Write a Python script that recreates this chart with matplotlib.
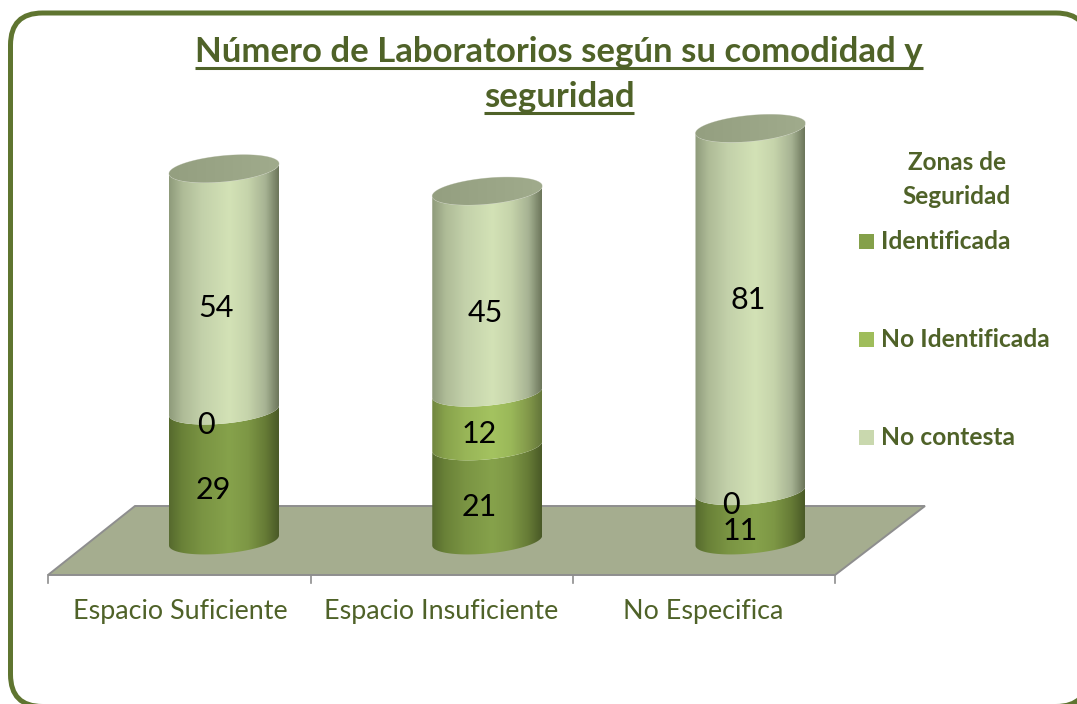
import matplotlib
matplotlib.use('Agg')
import matplotlib.pyplot as plt
import numpy as np
from matplotlib.colors import LinearSegmentedColormap
from matplotlib.patches import Polygon, FancyBboxPatch, Rectangle

categorias = ['Espacio Suficiente', 'Espacio Insuficiente', 'No Especifica']
series = ['Identificada', 'No Identificada', 'No contesta']
identificada = [29, 21, 11]
no_identificada = [0, 12, 0]
no_contesta = [54, 45, 81]

titulo = ['Número de Laboratorios según su comodidad y', 'seguridad']
titulo_legenda = ['Zonas de', 'Seguridad']

plt.rcParams['font.family'] = ['Lato', 'DejaVu Sans']

W, H = 1077, 704
VERDE = '#4f6228'
px_por_valor = 4.48
base_px = 540.5
x0_px = 224
passo_px = 263.25
larg_px = 55.0
b_px = 13.0
incl = 5.0 / 55.0

fig = plt.figure(figsize=(W / 100, H / 100), dpi=100)

# fundo em pixels: moldura, chao, legenda
bg = fig.add_axes([0, 0, 1, 1])
bg.set_xlim(0, W)
bg.set_ylim(H, 0)
bg.axis('off')

bg.add_patch(FancyBboxPatch((10.5, 13), 1077.5, 693.5, boxstyle='round,pad=0,rounding_size=32',
                            fc='white', ec='#5f7530', lw=3.6))

bg.add_patch(Polygon([(48, 575), (835, 575), (925, 506), (135, 506)], closed=True,
                     fc='#a5ad8f', ec='#8e8e8e', lw=1.4))
for xt in [48, 311, 573, 835]:
    bg.plot([xt, xt], [575, 583], color='#8e8e8e', lw=1.2)

# eixo das barras: x em categorias, y em valores
ax = fig.add_axes([0, 0, 1, 1])
ax.patch.set_alpha(0)
ax.axis('off')
xlim = (-x0_px / passo_px, (W - x0_px) / passo_px)
ylim = ((base_px - H) / px_por_valor, base_px / px_por_valor)
meia = larg_px / passo_px


def arco(cx, v, t):
    x_px = larg_px * np.cos(t)
    y_px = b_px * np.sin(t) - incl * x_px
    return cx + x_px / passo_px, v - y_px / px_por_valor


def cmap_cil(cs):
    return LinearSegmentedColormap.from_list('c', list(zip([0, 0.12, 0.3, 0.55, 0.72, 0.88, 1], cs)))


cores = [cmap_cil(['#566a2e', '#6a8238', '#7a9443', '#86a24b', '#7d9745', '#667b36', '#4a5a27']),
         cmap_cil(['#71863f', '#88a34c', '#98b557', '#a4c360', '#9ab859', '#82984a', '#64763a']),
         cmap_cil(['#8f9b7b', '#aebb97', '#c3d1aa', '#d3e2b6', '#c6d4ab', '#a7b393', '#6d775c'])]
cmap_tampa = LinearSegmentedColormap.from_list('t', ['#949f80', '#a0ab8c'])
gradiente = np.linspace(0, 1, 200).reshape(1, -1)
t_ida = np.linspace(np.pi, 0, 60)
t_volta = np.linspace(0, np.pi, 60)

valores = [identificada, no_identificada, no_contesta]
for i in range(len(categorias)):
    v0 = 0
    for s in range(len(series)):
        v1 = v0 + valores[s][i]
        if valores[s][i] > 0:
            xa, ya = arco(i, v0, t_ida)
            xb, yb = arco(i, v1, t_volta)
            poli = Polygon(np.column_stack([np.r_[xa, xb], np.r_[ya, yb]]), closed=True,
                           fc='none', ec='none', zorder=3)
            ax.add_patch(poli)
            im = ax.imshow(gradiente, cmap=cores[s], aspect='auto', zorder=2,
                           extent=(i - meia, i + meia, v0 - 5, v1 + 5))
            im.set_clip_path(poli)
        v0 = v1
    # tampa do cilindro
    xc, yc = arco(i, v0, np.linspace(0, 2 * np.pi, 120))
    tampa = Polygon(np.column_stack([xc, yc]), closed=True, fc='none', ec='#d5d8cc', lw=0.5, zorder=4)
    ax.add_patch(tampa)
    im = ax.imshow(gradiente, cmap=cmap_tampa, aspect='auto', zorder=4,
                   extent=(i - meia, i + meia, v0 - 5, v0 + 5))
    im.set_clip_path(tampa)

ax.set_xlim(*xlim)
ax.set_ylim(*ylim)

# rotulos: posicao vem da barra, com ajuste em pixels
ajuste_x = [[-11, -18, -8], [-8, -8, -2], [-10, -20, -2]]
ajuste_y = [[14, 14, 18], [14, 14, 21], [15, 14, -10]]
for i in range(len(categorias)):
    v0 = 0
    for s in range(len(series)):
        val = valores[s][i]
        ym = v0 + val / 2
        ax.text(i + ajuste_x[i][s] / passo_px, ym - ajuste_y[i][s] / px_por_valor, str(val),
                color='black', fontsize=22, ha='center', va='center', zorder=6)
        v0 += val

ajuste_cat = [-44, -46, -47]
for i, nome in enumerate(categorias):
    ax.text(i + ajuste_cat[i] / passo_px, (base_px - 612) / px_por_valor, nome,
            color=VERDE, fontsize=19.4, ha='center', va='center')

# titulo sublinhado
fig.canvas.draw()
rend = fig.canvas.get_renderer()
for linha, y in zip(titulo, [52, 97]):
    t = bg.text(559, y, linha, color=VERDE, fontsize=25, fontweight='bold', ha='center', va='center')
    box = t.get_window_extent(rend)
    bg.plot([box.x0, box.x1], [y + 15.5, y + 15.5], color=VERDE, lw=2.2, solid_capstyle='butt')

for linha, y in zip(titulo_legenda, [163, 196]):
    bg.text(957, y, linha, color=VERDE, fontsize=17.5, fontweight='bold', ha='center', va='center')

cores_leg = ['#84a04a', '#9fbd5b', '#c9d8ae']
for nome, cor, y in zip(series, cores_leg, [241.5, 339.5, 437.5]):
    bg.add_patch(Rectangle((859, y - 7.5), 15, 15, fc=cor, ec='none'))
    bg.text(881, y, nome, color=VERDE, fontsize=17.7, fontweight='bold', ha='left', va='center')

fig.savefig('out.png', dpi=100)
